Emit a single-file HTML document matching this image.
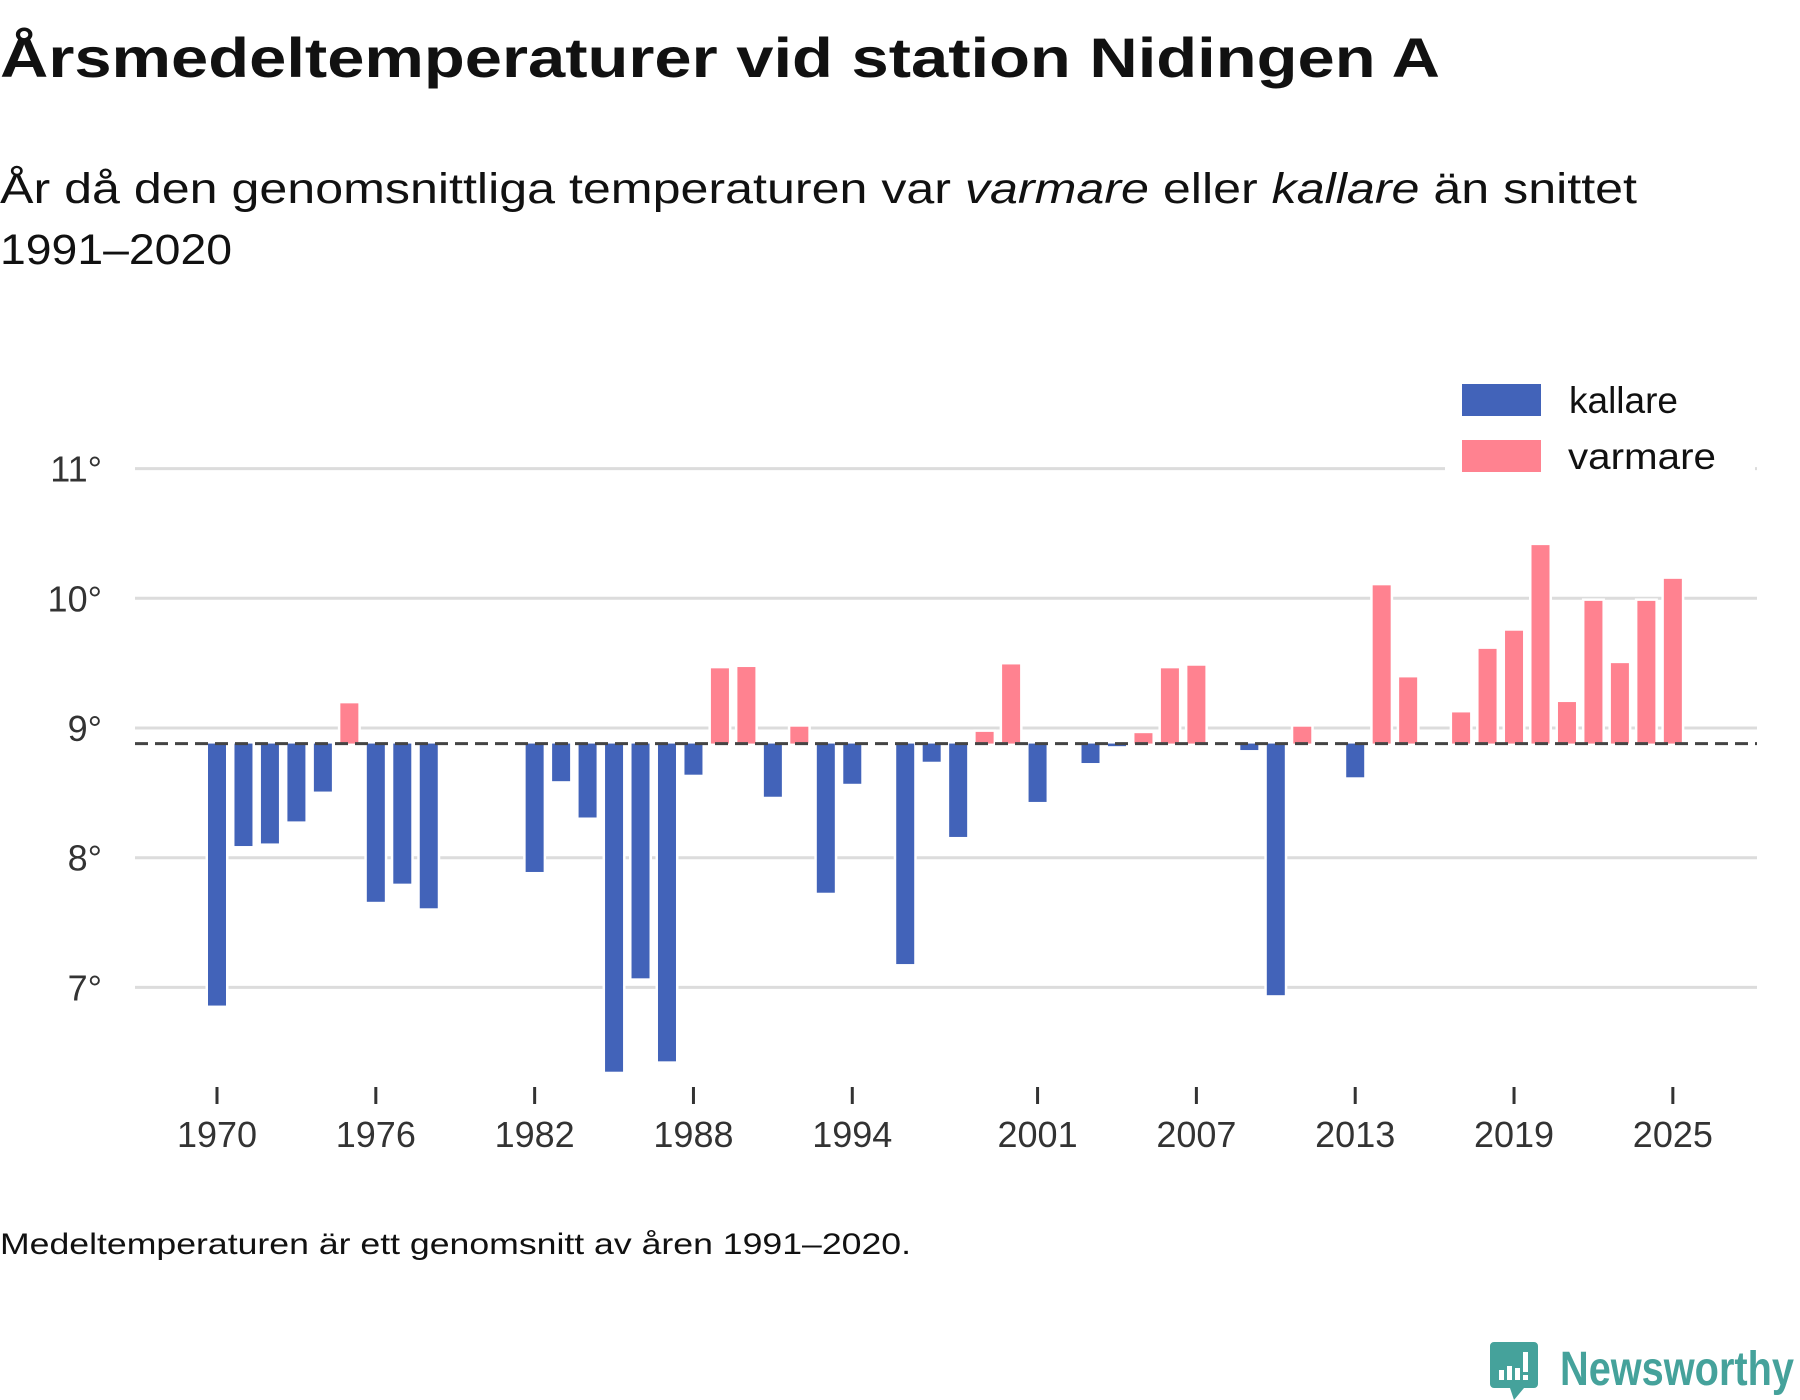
<!DOCTYPE html>
<html><head><meta charset="utf-8"><style>
html,body{margin:0;padding:0;background:#fff;}
svg{display:block;font-family:"Liberation Sans",sans-serif;}
</style></head><body>
<svg id="chart" width="1800" height="1400" viewBox="0 0 1800 1400">
<text x="0" y="77" font-size="56" font-weight="bold" fill="#111" textLength="1440" lengthAdjust="spacingAndGlyphs">Årsmedeltemperaturer vid station Nidingen A</text>
<text x="0" y="203" font-size="43" fill="#111" textLength="1637" lengthAdjust="spacingAndGlyphs">År då den genomsnittliga temperaturen var <tspan font-style="italic">varmare</tspan> eller <tspan font-style="italic">kallare</tspan> än snittet</text>
<text x="0" y="264" font-size="43" fill="#111" textLength="232" lengthAdjust="spacingAndGlyphs">1991–2020</text>
<g id="grid"></g>
<g id="bars"></g>
<g id="axes"></g>
<g>
<rect x="1445" y="372" width="310" height="110" fill="#fff"/>
<rect x="1462" y="384" width="79" height="32" fill="#4263b9"/>
<text x="1569" y="413" font-size="37" fill="#111">kallare</text>
<rect x="1462" y="440" width="79" height="32" fill="#ff8290"/>
<text x="1568" y="469" font-size="37" fill="#111" textLength="148" lengthAdjust="spacingAndGlyphs">varmare</text>
</g>
<text x="0" y="1254" font-size="30" fill="#111" textLength="911" lengthAdjust="spacingAndGlyphs">Medeltemperaturen är ett genomsnitt av åren 1991–2020.</text>
<g>
<path d="M1494 1342 h40 a4 4 0 0 1 4 4 v38 a4 4 0 0 1 -4 4 h-10 l-10 12 l-4 -12 h-16 a4 4 0 0 1 -4 -4 v-38 a4 4 0 0 1 4 -4 z" fill="#45a29b"/>
<rect x="1499" y="1370" width="5" height="10" fill="#fff"/>
<rect x="1507" y="1366" width="5" height="14" fill="#fff"/>
<rect x="1515" y="1368" width="5" height="12" fill="#fff"/>
<rect x="1523" y="1352" width="5" height="20" fill="#fff"/>
<rect x="1523" y="1375" width="5" height="5" fill="#fff"/>
<text x="1560" y="1385" font-size="48" font-weight="bold" fill="#45a29b" textLength="234" lengthAdjust="spacingAndGlyphs">Newsworthy</text>
</g>
</svg>
<script>
const years = [1970,1971,1972,1973,1974,1975,1976,1977,1978,1982,1983,1984,1985,1986,1987,1988,1989,1990,1991,1992,1993,1994,1996,1997,1998,1999,2000,2001,2003,2004,2005,2006,2007,2009,2010,2011,2013,2014,2015,2017,2018,2019,2020,2021,2022,2023,2024,2025];
const temps = [6.86,8.09,8.11,8.28,8.51,9.19,7.66,7.80,7.61,7.89,8.59,8.31,6.35,7.07,6.43,8.64,9.46,9.47,8.47,9.01,7.73,8.57,7.18,8.74,8.16,8.97,9.49,8.43,8.73,8.86,8.96,9.46,9.48,8.83,6.94,9.01,8.62,10.10,9.39,9.12,9.61,9.75,10.41,9.20,9.98,9.50,9.98,10.15];
const meanTemp = 8.88;
const yTicks = [7,8,9,10,11];
const xTicks = [1970,1976,1982,1988,1994,2001,2007,2013,2019,2025];

const NS = 'http://www.w3.org/2000/svg';
const x = yr => 217 + (yr - 1970) * 26.47;
const y = v => 728 - (v - 9) * 129.7;
function mk(tag, attrs, parent){const e=document.createElementNS(NS,tag);for(const k in attrs)e.setAttribute(k,attrs[k]);parent.appendChild(e);return e;}
const grid=document.getElementById('grid'), bars=document.getElementById('bars'), axes=document.getElementById('axes');

yTicks.forEach(t=>{
  const l=mk('line',{x1:135,x2:1757,y1:y(t),y2:y(t),stroke:'#dcdcdc','stroke-width':3},grid);
  
  
  const tx=mk('text',{x:102,y:y(t)+13,'font-size':36,fill:'#333','text-anchor':'end'},axes);
  tx.textContent=t+'°';
  
  
});
const bw=18;
years.forEach((yr,i)=>{
  const v=temps[i];
  const top=Math.min(y(v),y(meanTemp)), h=Math.abs(y(v)-y(meanTemp));
  const r=mk('rect',{x:x(yr)-bw/2,y:top,width:bw,height:Math.max(h,1),fill:v<meanTemp?'#4263b9':'#ff8290',stroke:'#fff','stroke-width':5,'paint-order':'stroke'},bars);
  
  
});
const ml=mk('line',{x1:135,x2:1757,y1:y(meanTemp),y2:y(meanTemp),stroke:'#444','stroke-width':3,'stroke-dasharray':'13 7'},axes);


xTicks.forEach(t=>{
  const l=mk('line',{x1:x(t),x2:x(t),y1:1087,y2:1104,stroke:'#333','stroke-width':3},axes);
  
  
  const tx=mk('text',{x:x(t),y:1147,'font-size':36,fill:'#333','text-anchor':'middle'},axes);
  tx.textContent=t;
  
  
});
</script>
</body></html>
